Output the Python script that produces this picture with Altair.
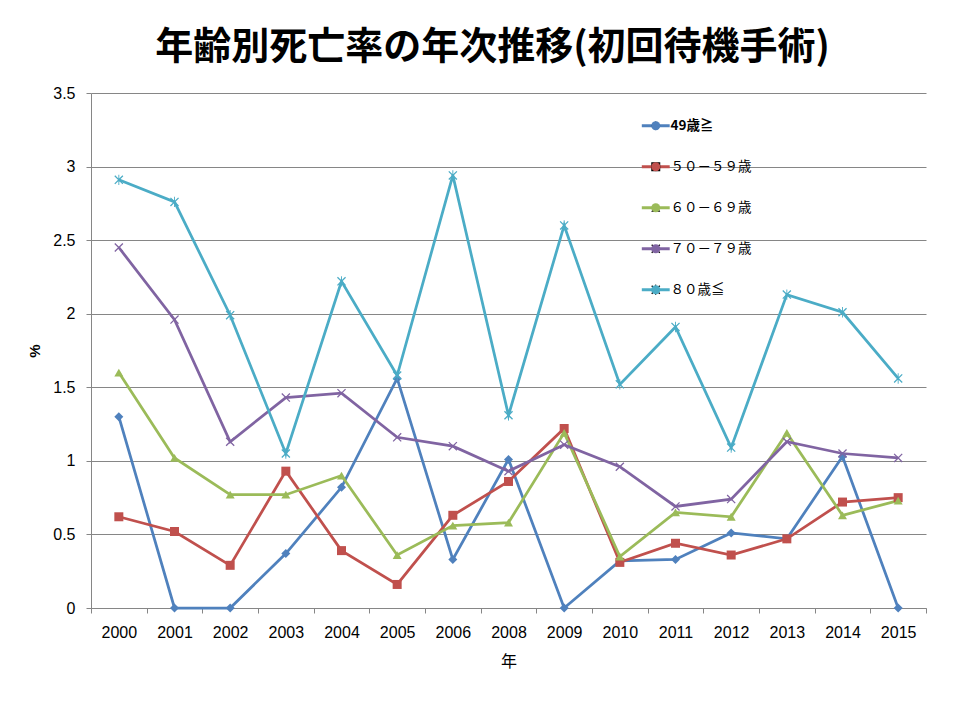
import altair as alt
import pandas as pd

years = ["2000", "2001", "2002", "2003", "2004", "2005", "2006", "2008",
         "2009", "2010", "2011", "2012", "2013", "2014", "2015"]
series_names = ["49歳≧", "５０－５９歳", "６０－６９歳", "７０－７９歳", "８０歳≦"]
s49 = [1.30, 0.00, 0.00, 0.37, 0.82, 1.56, 0.33, 1.01, 0.00, 0.32, 0.33, 0.51, 0.47, 1.03, 0.00]
s50 = [0.62, 0.52, 0.29, 0.93, 0.39, 0.16, 0.63, 0.86, 1.22, 0.31, 0.44, 0.36, 0.47, 0.72, 0.75]
s60 = [1.60, 1.02, 0.77, 0.77, 0.90, 0.36, 0.56, 0.58, 1.19, 0.35, 0.65, 0.62, 1.19, 0.63, 0.73]
s70 = [2.45, 1.96, 1.13, 1.43, 1.46, 1.16, 1.10, 0.93, 1.11, 0.96, 0.69, 0.74, 1.13, 1.05, 1.02]
s80 = [2.91, 2.76, 1.99, 1.05, 2.22, 1.58, 2.94, 1.31, 2.60, 1.52, 1.91, 1.09, 2.13, 2.01, 1.56]
y_ticks = [0, 0.5, 1, 1.5, 2, 2.5, 3, 3.5]

colors = ["#4F81BD", "#C0504D", "#9BBB59", "#8064A2", "#4BACC6"]
X_PATH = "M-1,-0.8L-0.8,-1L1,0.8L0.8,1Z M1,-0.8L-0.8,1L-1,0.8L0.8,-1Z"
AST_PATH = X_PATH + " M-0.1,-1.15L0.1,-1.15L0.1,1.15L-0.1,1.15Z"
shapes = ["diamond", "square", "triangle-up", X_PATH, AST_PATH]

rows = []
for name, vals in zip(series_names, [s49, s50, s60, s70, s80]):
    for yr, v in zip(years, vals):
        rows.append({"year": yr, "value": v, "series": name})
df = pd.DataFrame(rows)

GRAY = "#868686"
LABEL_FONT = "Liberation Sans"
CJK = "Noto Sans CJK JP"

x_enc = alt.X(
    "year:O", sort=years,
    scale=alt.Scale(type="band", paddingInner=0, paddingOuter=0),
    bandPosition=0.5,
    axis=alt.Axis(title="年", labelAngle=0, tickBand="extent", grid=False,
                  domainColor=GRAY, tickColor=GRAY, tickSize=5,
                  labelFont=LABEL_FONT, labelFontSize=16, labelColor="black",
                  labelPadding=11, titleFont=CJK, titleFontSize=16,
                  titleFontWeight="normal", titlePadding=13, titleColor="black"),
)
y_enc = alt.Y(
    "value:Q",
    scale=alt.Scale(domain=[0, 3.5], nice=False, zero=True),
    axis=alt.Axis(title="%", values=y_ticks, format="~g", grid=True,
                  gridColor=GRAY, domainColor=GRAY, tickColor=GRAY, tickSize=5,
                  labelFont=LABEL_FONT, labelFontSize=16, labelColor="black",
                  labelPadding=11, titleFont=LABEL_FONT, titleFontSize=15,
                  titleFontWeight="bold", titlePadding=10, titleColor="black"),
)

legend_common = dict(orient="none", legendX=558, legendY=26, padding=0,
                     rowPadding=26, labelFont=CJK, labelFontSize=13.5,
                     labelColor="black", symbolSize=81, title=None,
                     labelOffset=8)

base = alt.Chart(df).transform_calculate(series2="datum.series")

# line legend (line symbols + labels)
lines = base.mark_line(strokeWidth=2.75).encode(
    x=x_enc, y=y_enc,
    stroke=alt.Stroke("series:N",
                      scale=alt.Scale(domain=series_names, range=colors),
                      legend=alt.Legend(
                          symbolType="M-3.1,0H3.1", symbolStrokeWidth=3,
                          labelFontWeight=alt.ExprRef(
                              expr="datum.index == 0 ? 'bold' : 'normal'"),
                          **legend_common)),
)

# marker legend (drawn over the line legend, labels hidden)
pt_legend = alt.Legend(symbolStrokeWidth=0, labelOpacity=0, **legend_common)
points = base.mark_point(filled=True, size=81, opacity=1).encode(
    x=x_enc, y=y_enc,
    fill=alt.Fill("series2:N", sort=series_names,
                  scale=alt.Scale(range=colors), legend=pt_legend),
    shape=alt.Shape("series2:N", sort=series_names,
                    scale=alt.Scale(range=shapes), legend=pt_legend),
)

chart = alt.layer(lines, points).properties(
    width=835, height=515,
    title=alt.TitleParams("年齢別死亡率の年次推移(初回待機手術)",
                          font=CJK, fontSize=38, fontWeight="bold",
                          color="black", anchor="middle", dx=-16, offset=18),
    autosize=alt.AutoSizeParams(type="none"),
    padding={"left": 83, "top": 85, "right": 26, "bottom": 100},
    background="white",
).configure_view(stroke=None)

chart.save("out.html", embed_options={"renderer": "svg", "actions": False})
